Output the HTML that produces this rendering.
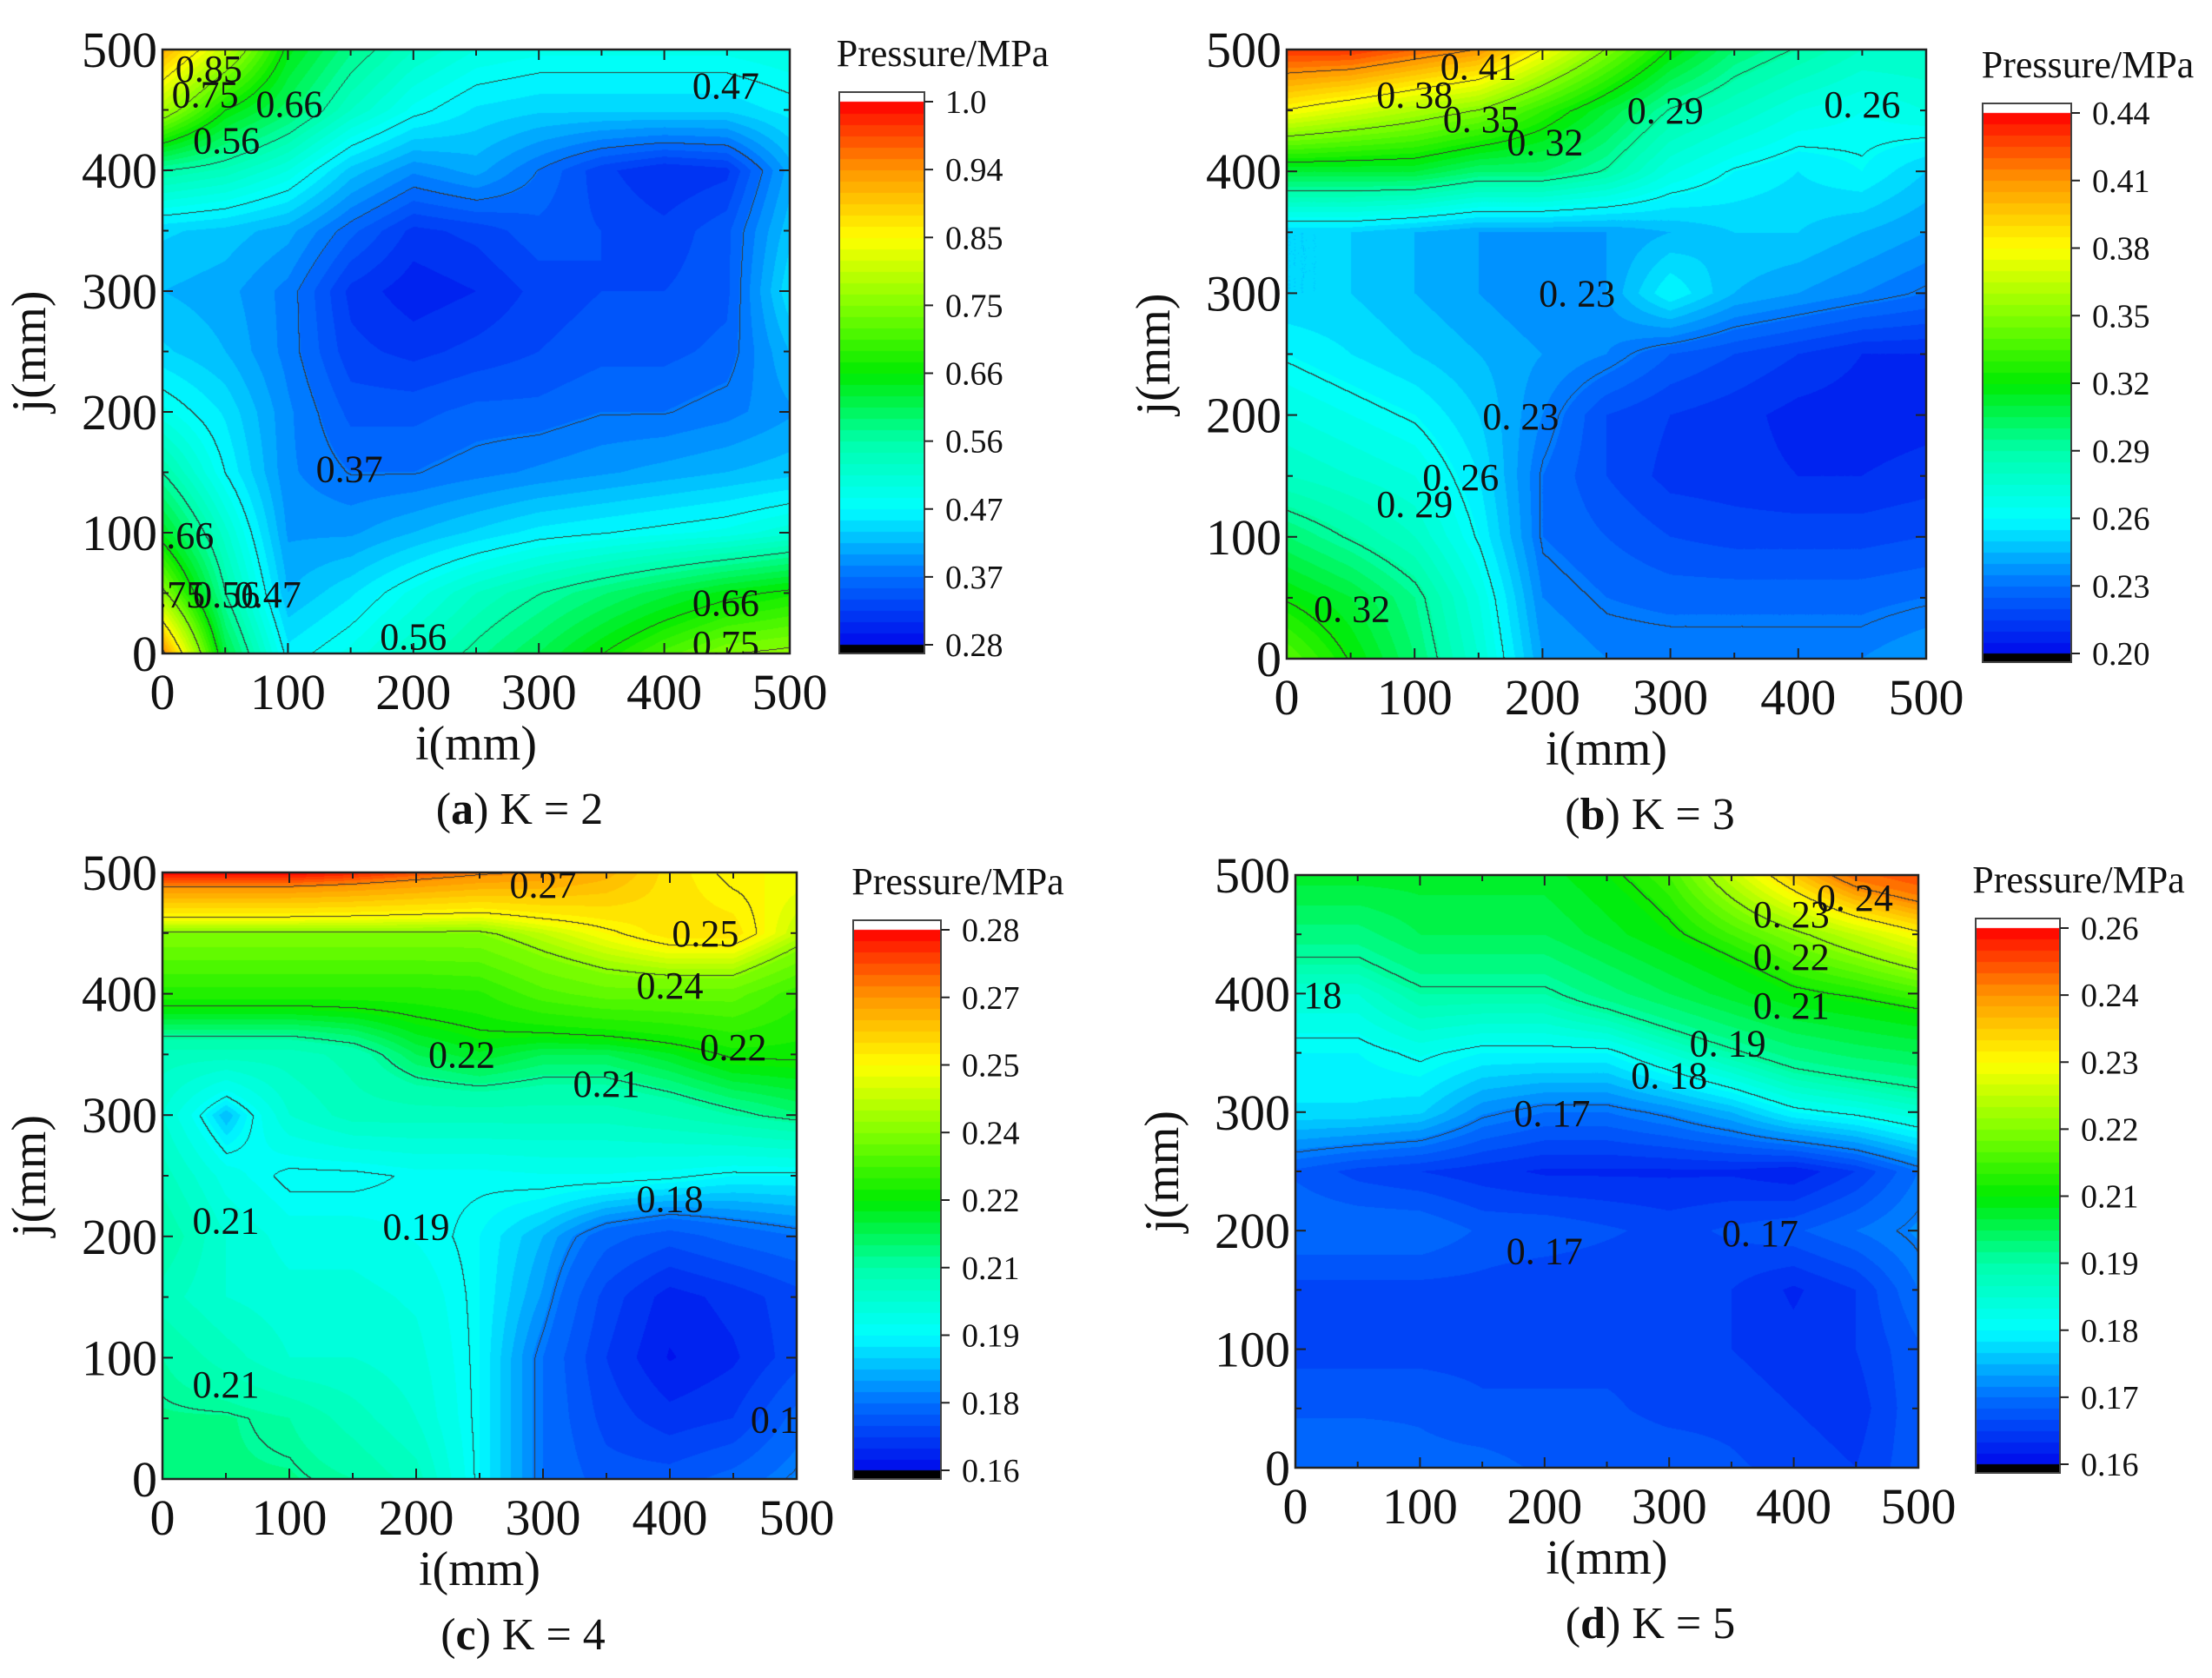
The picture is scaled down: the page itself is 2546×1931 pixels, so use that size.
<!DOCTYPE html>
<html><head><meta charset="utf-8"><style>
html,body{margin:0;padding:0;background:#fff;}
#root{position:relative;width:2546px;height:1931px;overflow:hidden;background:#fff;font-family:"Liberation Serif",serif;}
canvas{position:absolute;}
svg{position:absolute;left:0;top:0;}
</style></head><body>
<div id="root">
<svg id="ov" width="2546" height="1931"></svg>
</div>
<script>
// ---------- DATA (rows j=500 -> 0, cols i=0..500 step 50) ----------
const gridA = [
[0.92,0.80,0.65,0.58,0.53,0.50,0.49,0.49,0.49,0.49,0.50],
[0.78,0.66,0.60,0.53,0.48,0.45,0.44,0.44,0.44,0.44,0.46],
[0.56,0.54,0.50,0.43,0.39,0.41,0.37,0.33,0.31,0.32,0.41],
[0.44,0.43,0.41,0.36,0.32,0.33,0.35,0.34,0.33,0.35,0.43],
[0.42,0.41,0.38,0.32,0.30,0.31,0.33,0.34,0.34,0.35,0.45],
[0.44,0.42,0.38,0.33,0.32,0.33,0.34,0.35,0.35,0.36,0.42],
[0.49,0.45,0.39,0.35,0.35,0.36,0.36,0.37,0.37,0.38,0.40],
[0.56,0.47,0.39,0.37,0.37,0.38,0.39,0.40,0.41,0.42,0.43],
[0.64,0.52,0.40,0.40,0.42,0.44,0.46,0.47,0.48,0.49,0.51],
[0.76,0.56,0.42,0.45,0.49,0.53,0.56,0.59,0.62,0.65,0.67],
[0.95,0.62,0.46,0.49,0.53,0.57,0.61,0.66,0.71,0.75,0.76]];
const gridB = [
[0.43,0.43,0.42,0.41,0.38,0.35,0.32,0.30,0.29,0.28,0.28],
[0.38,0.37,0.36,0.35,0.33,0.31,0.29,0.28,0.27,0.265,0.27],
[0.31,0.31,0.31,0.30,0.30,0.29,0.27,0.26,0.255,0.26,0.25],
[0.25,0.25,0.245,0.24,0.24,0.24,0.245,0.25,0.25,0.245,0.24],
[0.25,0.25,0.245,0.24,0.235,0.24,0.26,0.245,0.24,0.235,0.23],
[0.26,0.255,0.25,0.245,0.24,0.235,0.225,0.22,0.215,0.21,0.21],
[0.27,0.265,0.26,0.25,0.235,0.22,0.215,0.212,0.208,0.207,0.208],
[0.28,0.275,0.27,0.255,0.23,0.22,0.213,0.212,0.21,0.21,0.212],
[0.30,0.29,0.28,0.26,0.23,0.225,0.22,0.218,0.218,0.218,0.22],
[0.32,0.31,0.295,0.27,0.235,0.23,0.228,0.228,0.228,0.228,0.23],
[0.34,0.32,0.30,0.275,0.24,0.235,0.235,0.235,0.235,0.235,0.24]];
const gridC = [
[0.28,0.28,0.28,0.278,0.275,0.272,0.27,0.265,0.255,0.25,0.25],
[0.24,0.24,0.24,0.24,0.24,0.24,0.245,0.25,0.255,0.255,0.245],
[0.225,0.225,0.225,0.225,0.225,0.226,0.232,0.235,0.235,0.235,0.228],
[0.205,0.205,0.205,0.208,0.215,0.218,0.215,0.215,0.218,0.222,0.222],
[0.20,0.185,0.20,0.205,0.205,0.205,0.205,0.205,0.207,0.21,0.213],
[0.205,0.195,0.19,0.19,0.192,0.192,0.193,0.193,0.192,0.19,0.19],
[0.21,0.20,0.195,0.195,0.193,0.19,0.185,0.178,0.175,0.178,0.18],
[0.205,0.20,0.198,0.198,0.196,0.19,0.183,0.172,0.165,0.168,0.172],
[0.21,0.205,0.20,0.20,0.198,0.19,0.18,0.17,0.163,0.166,0.172],
[0.212,0.212,0.21,0.205,0.20,0.19,0.18,0.172,0.168,0.17,0.178],
[0.212,0.212,0.212,0.21,0.205,0.19,0.18,0.175,0.175,0.178,0.182]];
const gridD = [
[0.205,0.205,0.205,0.205,0.205,0.21,0.215,0.225,0.235,0.245,0.25],
[0.195,0.195,0.20,0.20,0.20,0.205,0.21,0.215,0.22,0.225,0.23],
[0.185,0.185,0.19,0.19,0.19,0.195,0.20,0.205,0.21,0.212,0.215],
[0.18,0.18,0.182,0.18,0.18,0.18,0.185,0.19,0.195,0.198,0.20],
[0.178,0.178,0.177,0.172,0.17,0.17,0.172,0.175,0.18,0.182,0.185],
[0.168,0.166,0.165,0.164,0.163,0.163,0.163,0.163,0.162,0.165,0.17],
[0.17,0.17,0.17,0.168,0.168,0.167,0.166,0.167,0.168,0.17,0.172],
[0.166,0.166,0.166,0.166,0.165,0.165,0.165,0.165,0.163,0.165,0.17],
[0.166,0.166,0.166,0.166,0.166,0.166,0.166,0.165,0.164,0.165,0.168],
[0.168,0.168,0.168,0.167,0.167,0.167,0.166,0.166,0.165,0.164,0.168],
[0.17,0.17,0.169,0.169,0.168,0.168,0.168,0.167,0.166,0.165,0.168]];
const ticksA = ["0.28","0.37","0.47","0.56","0.66","0.75","0.85","0.94","1.0"];
const ticksB = ["0.20","0.23","0.26","0.29","0.32","0.35","0.38","0.41","0.44"];
const ticksC = ["0.16","0.18","0.19","0.21","0.22","0.24","0.25","0.27","0.28"];
const ticksD = ["0.16","0.17","0.18","0.19","0.21","0.22","0.23","0.24","0.26"];
const axisTicks = ["0","100","200","300","400","500"];
const labelsA = [["0.85",37,484],["0.75",34,463],["0.66",101,455],["0.56",51,425],["0.47",449,470],["0.37",149,153],[".66",22,98],[".75",15,49],["0.56",51,49],["0.47",84,49],["0.56",200,14],["0.66",449,42],["0.75",449,8]];
const labelsB = [["0. 41",150,486],["0. 38",100,463],["0. 35",152,443],["0. 32",202,424],["0. 29",296,450],["0. 26",450,455],["0. 23",227,300],["0. 23",183,199],["0. 26",136,149],["0. 29",100,127],["0. 32",51,41]];
const labelsC = [["0.27",300,490],["0.25",428,450],["0.24",400,407],["0.22",236,350],["0.22",450,356],["0.21",350,326],["0.18",400,231],["0.21",50,213],["0.19",200,208],["0.21",50,78],["0.18",490,49]];
const labelsD = [["0. 24",449,481],["0. 23",398,467],["0. 22",398,431],["0. 21",398,390],["0. 19",347,358],["0. 18",300,331],["0. 17",206,299],["0. 17",200,183],["0. 17",373,198],["18",22,399]];

// ---------- LAYOUT ----------
const panels = [
 {id:"a",grid:gridA,ticks:ticksA,labels:labelsA,cap:"a",K:"2",px:187,py:57,pw:722,ph:695,cx:966,cy:106,cw:98,ch:646},
 {id:"b",grid:gridB,ticks:ticksB,labels:labelsB,cap:"b",K:"3",px:1481,py:57,pw:736,ph:701,cx:2282,cy:119,cw:102,ch:643},
 {id:"c",grid:gridC,ticks:ticksC,labels:labelsC,cap:"c",K:"4",px:187,py:1004,pw:730,ph:698,cx:982,cy:1059,cw:101,ch:643},
 {id:"d",grid:gridD,ticks:ticksD,labels:labelsD,cap:"d",K:"5",px:1491,py:1007,pw:717,ph:682,cx:2274,cy:1057,cw:97,ch:638}
];
const stops=[[0,[0,10,235]],[0.125,[0,110,255]],[0.25,[0,255,255]],[0.375,[0,255,170]],[0.5,[0,235,0]],[0.625,[130,255,0]],[0.75,[255,255,0]],[0.875,[255,150,0]],[1,[255,0,0]]];
function cmap(f){f=Math.max(0,Math.min(1,f));for(let k=1;k<stops.length;k++){if(f<=stops[k][0]){const a=stops[k-1],b=stops[k];const t=(f-a[0])/(b[0]-a[0]);return a[1].map((v,i)=>Math.round(v+(b[1][i]-v)*t));}}return stops[stops.length-1][1];}
function frac(v,tv){const n=tv.length-1;if(v<=tv[0])return 0;for(let k=1;k<=n;k++){if(v<=tv[k])return (k-1+(v-tv[k-1])/(tv[k]-tv[k-1]))/n;}return 1;}
function bil(g,c,r){const c0=Math.min(9,Math.floor(c)),r0=Math.min(9,Math.floor(r));const tx=c-c0,ty=r-r0;return g[r0][c0]*(1-tx)*(1-ty)+g[r0][c0+1]*tx*(1-ty)+g[r0+1][c0]*(1-tx)*ty+g[r0+1][c0+1]*tx*ty;}
const NB=48;
const root=document.getElementById('root');
const ov=document.getElementById('ov');
const NS="http://www.w3.org/2000/svg";
function mk(tag,attrs,parent){const e=document.createElementNS(NS,tag);for(const k in attrs)e.setAttribute(k,attrs[k]);(parent||ov).appendChild(e);return e;}

panels.forEach(P=>{
 const tv=P.ticks.map(Number);
 const lineLv=tv.slice(1,-1).map(v=>v+0.0013);
 const cv=document.createElement('canvas');
 cv.width=P.pw;cv.height=P.ph;cv.style.left=P.px+'px';cv.style.top=P.py+'px';
 
 
 root.insertBefore(cv,ov);
 const ctx=cv.getContext('2d');const im=ctx.createImageData(P.pw,P.ph);
 const idx=new Int16Array(P.pw*P.ph);
 for(let y=0;y<P.ph;y++){const r=y/(P.ph-1)*10;for(let x=0;x<P.pw;x++){const c=x/(P.pw-1)*10;const v=bil(P.grid,c,r);
   let li=0;for(const L of lineLv)if(v>L)li++;idx[y*P.pw+x]=li;
   const f=frac(v,tv);const q=(Math.floor(f*NB)+0.5)/NB;const col=cmap(q);const o=(y*P.pw+x)*4;im.data[o]=col[0];im.data[o+1]=col[1];im.data[o+2]=col[2];im.data[o+3]=255;}}
 for(let y=1;y<P.ph;y++)for(let x=1;x<P.pw;x++){const i=y*P.pw+x;if(idx[i]!==idx[i-1]||idx[i]!==idx[i-P.pw]){const o=i*4;im.data[o]=55;im.data[o+1]=55;im.data[o+2]=55;}}
 ctx.putImageData(im,0,0);
 const cb=document.createElement('canvas');
 cb.width=P.cw;cb.height=P.ch;cb.style.left=P.cx+'px';cb.style.top=P.cy+'px';
 
 
 root.insertBefore(cb,ov);
 const bx=cb.getContext('2d');const wh=11,bk=10;const t0=wh,t1=P.ch-bk;
 bx.fillStyle='#fff';bx.fillRect(0,0,P.cw,wh);bx.fillStyle='#000';bx.fillRect(0,t1,P.cw,bk);
 for(let y=t0;y<t1;y++){const f=(t1-y)/(t1-t0);const q=(Math.floor(f*NB)+0.5)/NB;const c=cmap(q);bx.fillStyle='rgb('+c+')';bx.fillRect(0,y,P.cw,1);}
 mk('rect',{x:P.cx,y:P.cy,width:P.cw,height:P.ch,fill:'none',stroke:'#444','stroke-width':2,});
 const g=mk('g',{});
 P.ticks.forEach((t,k)=>{const y=P.cy+t1-(t1-t0)*k/(P.ticks.length-1);
   mk('line',{x1:P.cx+P.cw,x2:P.cx+P.cw+10,y1:y,y2:y,stroke:'#222','stroke-width':2},g);
   const tx=mk('text',{x:P.cx+P.cw+24,y:y+13,'font-size':38,fill:'#111'},g);tx.textContent=t;});
 const tt=mk('text',{x:P.cx+P.cw/2+70,y:P.cy-30,'font-size':44,'text-anchor':'middle',fill:'#111',});tt.textContent='Pressure/MPa';
 const sx=v=>P.px+v/500*P.pw, sy=v=>P.py+P.ph-v/500*P.ph;
 mk('rect',{x:P.px,y:P.py,width:P.pw,height:P.ph,fill:'none',stroke:'#222','stroke-width':2.5,});
 const ag=mk('g',{});
 for(let v=0;v<=500;v+=50){const L=v%100===0?12:7;
   mk('line',{x1:sx(v),x2:sx(v),y1:P.py+P.ph,y2:P.py+P.ph-L,stroke:'#222','stroke-width':2},ag);
   mk('line',{x1:sx(v),x2:sx(v),y1:P.py,y2:P.py+L,stroke:'#222','stroke-width':2},ag);
   mk('line',{x1:P.px,x2:P.px+L,y1:sy(v),y2:sy(v),stroke:'#222','stroke-width':2},ag);
   mk('line',{x1:P.px+P.pw,x2:P.px+P.pw-L,y1:sy(v),y2:sy(v),stroke:'#222','stroke-width':2},ag);}
 axisTicks.forEach(t=>{const v=Number(t);
   const a=mk('text',{x:sx(v),y:P.py+P.ph+64,'font-size':58,'text-anchor':'middle',fill:'#111'},ag);a.textContent=t;
   const b=mk('text',{x:P.px-6,y:sy(v)+20,'font-size':58,'text-anchor':'end',fill:'#111'},ag);b.textContent=t;});
 const xt=mk('text',{x:P.px+P.pw/2,y:P.py+P.ph+122,'font-size':56,'text-anchor':'middle',fill:'#111',});xt.textContent='i(mm)';
 const yx=P.px-135,yy=P.py+P.ph/2;
 const yt=mk('text',{x:yx,y:yy,'font-size':56,'text-anchor':'middle',fill:'#111',transform:'rotate(-90 '+yx+' '+yy+')',});yt.textContent='j(mm)';
 const cp=mk('clipPath',{id:'clip'+P.id});mk('rect',{x:P.px,y:P.py,width:P.pw,height:P.ph},cp);
 const lg=mk('g',{'clip-path':'url(#clip'+P.id+')',});
 P.labels.forEach(L=>{const t=mk('text',{x:sx(L[1]),y:sy(L[2])+15,'font-size':44,'text-anchor':'middle',fill:'#111'},lg);t.textContent=L[0];});
 const cap=mk('text',{x:P.px+P.pw/2+50,y:P.py+P.ph+196,'font-size':52,'text-anchor':'middle',fill:'#111',});
 const s1=mk('tspan',{},cap);s1.textContent='(';const s2=mk('tspan',{'font-weight':'bold'},cap);s2.textContent=P.cap;const s3=mk('tspan',{},cap);s3.textContent=') K = '+P.K;
});
</script>
</body></html>
